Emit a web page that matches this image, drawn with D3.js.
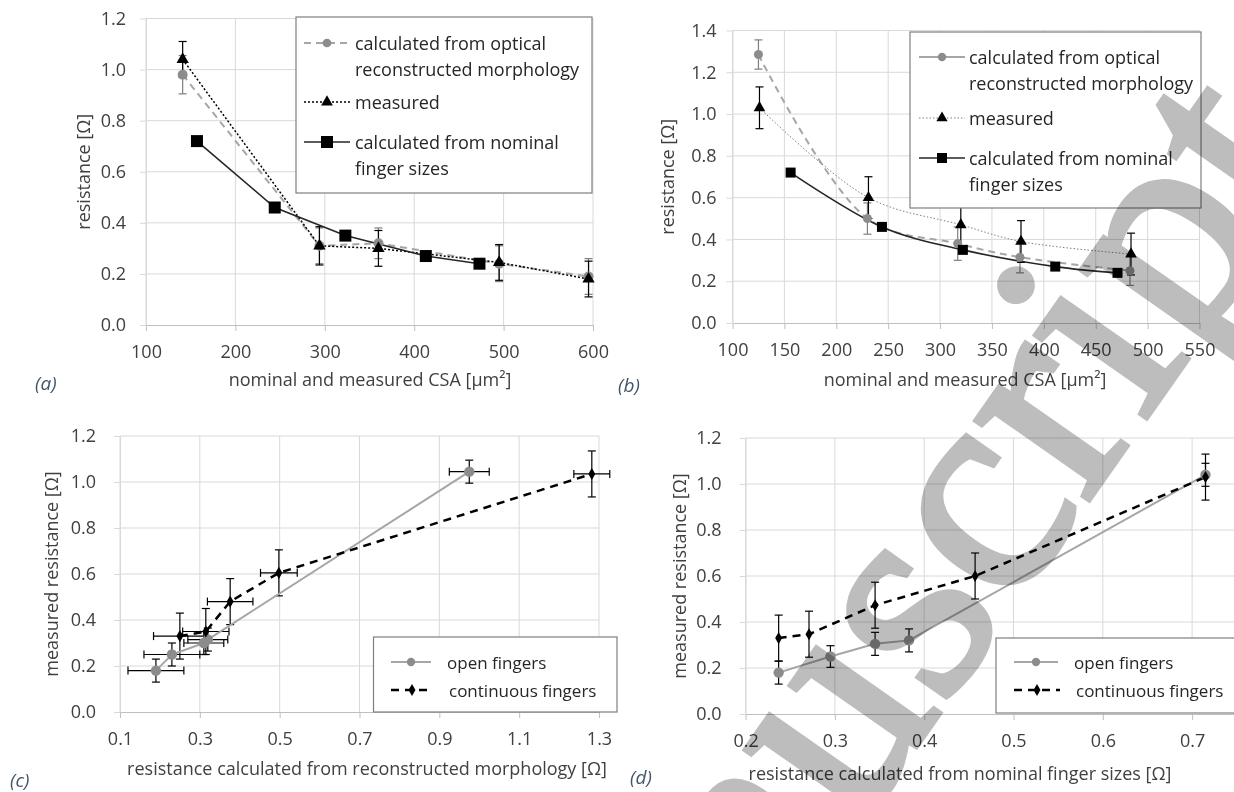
<!DOCTYPE html>
<html>
<head>
<meta charset="utf-8">
<script src="https://cdn.jsdelivr.net/npm/d3@7"></script>
<style>
  body { margin: 0; background: #fff; }
  text { font-family: "Open Sans", sans-serif; }
</style>
</head>
<body>
<script>
// ---- (a) resistance vs CSA ----
var aCsaMeas = [141, 294, 360, 495, 595];
var aOptical = [0.98, 0.31, 0.32, 0.24, 0.19];
var aOpticalErr = [0.075, 0.07, 0.06, 0.07, 0.07];
var aMeasured = [1.04, 0.31, 0.30, 0.245, 0.18];
var aMeasuredErr = [0.07, 0.075, 0.07, 0.07, 0.07];
var aCsaNom = [157, 244, 323, 413, 473];
var aNominal = [0.72, 0.46, 0.35, 0.27, 0.24];

// ---- (b) resistance vs CSA (smoothed) ----
var bCsaOpt = [125, 230, 317, 377, 483];
var bOptical = [1.285, 0.50, 0.38, 0.315, 0.25];
var bOpticalErr = [0.07, 0.075, 0.08, 0.075, 0.07];
var bCsaMeas = [126, 231, 320, 378, 484];
var bMeasured = [1.03, 0.60, 0.47, 0.39, 0.33];
var bMeasuredErr = [0.1, 0.1, 0.1, 0.1, 0.1];
var bCsaNom = [156, 244, 322, 411, 471];
var bNominal = [0.72, 0.46, 0.35, 0.27, 0.24];

// ---- (c) measured vs reconstructed ----
var cOpenX = [0.19, 0.23, 0.31, 0.32, 0.975];
var cOpenY = [0.18, 0.25, 0.30, 0.315, 1.045];
var cOpenXErr = [0.07, 0.07, 0.05, 0.05, 0.05];
var cOpenYErr = [0.05, 0.05, 0.05, 0.05, 0.05];
var cContX = [0.25, 0.315, 0.376, 0.498, 1.282];
var cContY = [0.33, 0.35, 0.48, 0.605, 1.035];
var cContXErr = [0.066, 0.058, 0.057, 0.046, 0.045];
var cContYErr = [0.1, 0.1, 0.1, 0.1, 0.1];

// ---- (d) measured vs nominal ----
var dOpenX = [0.237, 0.295, 0.345, 0.383, 0.715];
var dOpenY = [0.18, 0.25, 0.305, 0.32, 1.04];
var dOpenYErr = [0.05, 0.047, 0.05, 0.05, 0.05];
var dContX = [0.237, 0.271, 0.345, 0.457, 0.715];
var dContY = [0.33, 0.347, 0.473, 0.60, 1.03];
var dContYErr = [0.1, 0.1, 0.1, 0.1, 0.1];

// tick values
var csaTicksA = d3.range(100, 601, 100);
var csaTicksB = d3.range(100, 551, 50);
var resTicks12 = d3.range(0, 1.21, 0.2);
var resTicks14 = d3.range(0, 1.41, 0.2);
var recTicks = [0.1, 0.3, 0.5, 0.7, 0.9, 1.1, 1.3];
var nomTicks = [0.2, 0.3, 0.4, 0.5, 0.6, 0.7];

var W = 1234, H = 792;
var svg = d3.select('body').append('svg').attr('width', W).attr('height', H);

var GRID = '#d9d9d9', AXIS = '#bfbfbf', LABEL = '#404040';
var GRAYLINE = '#a6a6a6', GRAYDOT = '#8c8c8c';
var f1 = d3.format('.1f');

function zip(xs, ys, errs, xerrs) {
    return xs.map(function (x, i) {
        return {x: x, y: ys[i], e: errs ? errs[i] : 0, xe: xerrs ? xerrs[i] : 0};
    });
}

// grid, axes and titles for one panel
function frame(x, y, xTicks, yTicks, yPad, xTitle, yTitle, yTitleX, xTitleY) {
    var g = svg.append('g');
    g.append('g').selectAll('line').data(yTicks.slice(1)).join('line')
        .attr('x1', x.range()[0]).attr('x2', x.range()[1])
        .attr('y1', function (d) { return y(d); }).attr('y2', function (d) { return y(d); })
        .attr('stroke', GRID);
    g.append('g').selectAll('line').data(xTicks).join('line')
        .attr('x1', function (d) { return x(d); }).attr('x2', function (d) { return x(d); })
        .attr('y1', y.range()[0]).attr('y2', y.range()[1])
        .attr('stroke', GRID);

    var xa = g.append('g').attr('transform', 'translate(0,' + y.range()[0] + ')')
        .call(d3.axisBottom(x).tickValues(xTicks).tickFormat(xTicks[1] < 1 ? f1 : d3.format('d'))
            .tickSize(6).tickSizeOuter(0).tickPadding(14));
    var ya = g.append('g').attr('transform', 'translate(' + x.range()[0] + ',0)')
        .call(d3.axisLeft(y).tickValues(yTicks).tickFormat(f1)
            .tickSize(6).tickSizeOuter(0).tickPadding(yPad));
    [xa, ya].forEach(function (a) {
        a.select('.domain').attr('stroke', AXIS);
        a.selectAll('.tick line').attr('stroke', AXIS);
        a.selectAll('.tick text').attr('fill', LABEL).style('font-size', '18px')
            .style('font-family', '"Open Sans", sans-serif');
    });
    ya.select('.domain').attr('stroke', GRID);
    ya.selectAll('.tick line').attr('stroke', GRID);

    svg.append('text').attr('x', xTitle.cx).attr('y', xTitleY)
        .attr('text-anchor', 'middle').attr('dominant-baseline', 'central')
        .attr('fill', LABEL).style('font-size', '18px').text(xTitle.t);
    svg.append('text')
        .attr('transform', 'translate(' + yTitleX + ',' + (y.range()[0] + y.range()[1]) / 2 + ') rotate(-90)')
        .attr('text-anchor', 'middle').attr('dominant-baseline', 'central')
        .attr('fill', LABEL).style('font-size', '18px').text(yTitle);
}

function line(x, y, pts, color, width, dash, curve) {
    svg.append('path').datum(pts)
        .attr('d', d3.line().x(function (d) { return x(d.x); }).y(function (d) { return y(d.y); })
            .curve(curve || d3.curveLinear))
        .attr('fill', 'none').attr('stroke', color).attr('stroke-width', width)
        .attr('stroke-dasharray', dash || null);
}

function errY(x, y, pts, color, cap) {
    var g = svg.append('g').attr('stroke', color).attr('stroke-width', 1.2);
    pts.forEach(function (d) {
        if (!d.e) return;
        var px = x(d.x), y0 = y(d.y - d.e), y1 = y(d.y + d.e);
        g.append('line').attr('x1', px).attr('x2', px).attr('y1', y0).attr('y2', y1);
        g.append('line').attr('x1', px - cap).attr('x2', px + cap).attr('y1', y0).attr('y2', y0);
        g.append('line').attr('x1', px - cap).attr('x2', px + cap).attr('y1', y1).attr('y2', y1);
    });
}

function errX(x, y, pts, color, cap) {
    var g = svg.append('g').attr('stroke', color).attr('stroke-width', 1.2);
    pts.forEach(function (d) {
        if (!d.xe) return;
        var py = y(d.y), x0 = x(d.x - d.xe), x1 = x(d.x + d.xe);
        g.append('line').attr('x1', x0).attr('x2', x1).attr('y1', py).attr('y2', py);
        g.append('line').attr('x1', x0).attr('x2', x0).attr('y1', py - cap).attr('y2', py + cap);
        g.append('line').attr('x1', x1).attr('x2', x1).attr('y1', py - cap).attr('y2', py + cap);
    });
}

function marks(x, y, pts, type, size, color) {
    svg.append('g').selectAll('path').data(pts).join('path')
        .attr('transform', function (d) { return 'translate(' + x(d.x) + ',' + y(d.y) + ')'; })
        .attr('d', d3.symbol(type, size)).attr('fill', color);
}

// legend entry: symbol line + marker + text lines
function legendRow(lx0, lx1, ly, color, width, dash, type, size, mcolor, tx, lines, fs) {
    svg.append('line').attr('x1', lx0).attr('x2', lx1).attr('y1', ly).attr('y2', ly)
        .attr('stroke', color).attr('stroke-width', width).attr('stroke-dasharray', dash || null);
    svg.append('path').attr('transform', 'translate(' + (lx0 + lx1) / 2 + ',' + ly + ')')
        .attr('d', d3.symbol(type, size)).attr('fill', mcolor);
    lines.forEach(function (t, i) {
        svg.append('text').attr('x', tx).attr('y', ly + i * 25.5)
            .attr('dominant-baseline', 'central').attr('fill', '#262626')
            .style('font-size', (fs || 18) + 'px').text(t);
    });
}

function legendBox(x0, y0, x1, y1) {
    svg.append('rect').attr('x', x0).attr('y', y0).attr('width', x1 - x0).attr('height', y1 - y0)
        .attr('fill', '#fff').attr('stroke', '#7f7f7f').attr('stroke-width', 1.2);
}

function panelLabel(px, py, t) {
    svg.append('text').attr('x', px).attr('y', py).attr('dominant-baseline', 'central')
        .attr('fill', '#44546a').style('font-size', '19px').style('font-style', 'italic').text(t);
}

// ================= (a) =================
var xA = d3.scaleLinear().domain([100, 600]).range([146, 593]);
var yA = d3.scaleLinear().domain([0, 1.2]).range([325, 18.5]);
frame(xA, yA, csaTicksA, resTicks12, 14, {t: 'nominal and measured CSA [\u03bcm\u00b2]', cx: 370}, 'resistance [\u03a9]', 83, 379);
var aOpt = zip(aCsaMeas, aOptical, aOpticalErr);
var aMeas = zip(aCsaMeas, aMeasured, aMeasuredErr);
var aNom = zip(aCsaNom, aNominal);
errY(xA, yA, aOpt, '#7f7f7f', 4);
errY(xA, yA, aMeas, '#000', 4);
line(xA, yA, aOpt, GRAYLINE, 2, '7,5');
line(xA, yA, aMeas, '#000', 1.5, '2,2');
line(xA, yA, aNom, '#262626', 1.6);
marks(xA, yA, aOpt, d3.symbolCircle, 78, GRAYDOT);
marks(xA, yA, aMeas, d3.symbolTriangle, 66, '#000');
marks(xA, yA, aNom, d3.symbolSquare, 144, '#000');
legendBox(296, 17, 592, 193);
legendRow(304, 350, 43, GRAYLINE, 2, '7,5', d3.symbolCircle, 60, GRAYDOT, 355,
    ['calculated from optical', 'reconstructed morphology']);
legendRow(304, 350, 102, '#000', 1.5, '2,2', d3.symbolTriangle, 60, '#000', 355, ['measured']);
legendRow(304, 350, 142, '#262626', 1.6, null, d3.symbolSquare, 144, '#000', 355,
    ['calculated from nominal', 'finger sizes']);
panelLabel(35, 383, '(a)');

// ================= (b) =================
var xB = d3.scaleLinear().domain([100, 550]).range([732.5, 1199.5]);
var yB = d3.scaleLinear().domain([0, 1.4]).range([323, 30.5]);
frame(xB, yB, csaTicksB, resTicks14, 10, {t: 'nominal and measured CSA [\u03bcm\u00b2]', cx: 965}, 'resistance [\u03a9]', 667, 379);
var bOpt = zip(bCsaOpt, bOptical, bOpticalErr);
var bMeas = zip(bCsaMeas, bMeasured, bMeasuredErr);
var bNom = zip(bCsaNom, bNominal);
errY(xB, yB, bOpt, '#7f7f7f', 4);
errY(xB, yB, bMeas, '#000', 4);
line(xB, yB, bOpt, GRAYLINE, 2, '7,5', d3.curveCatmullRom);
line(xB, yB, bMeas, '#7f7f7f', 1, '1.5,2', d3.curveCatmullRom);
line(xB, yB, bNom, '#262626', 1.6, null, d3.curveCatmullRom);
marks(xB, yB, bOpt, d3.symbolCircle, 64, GRAYDOT);
marks(xB, yB, bMeas, d3.symbolTriangle, 58, '#000');
marks(xB, yB, bNom, d3.symbolSquare, 100, '#000');
legendBox(910, 32, 1201, 208);
legendRow(919, 965, 57, GRAYLINE, 2, null, d3.symbolCircle, 55, GRAYDOT, 969,
    ['calculated from optical', 'reconstructed morphology']);
legendRow(919, 965, 118, '#7f7f7f', 1, '1.5,2', d3.symbolTriangle, 55, '#000', 969, ['measured']);
legendRow(919, 965, 158, '#262626', 1.6, null, d3.symbolSquare, 100, '#000', 969,
    ['calculated from nominal', 'finger sizes']);
panelLabel(618, 385, '(b)');

// ================= (c) =================
var xC = d3.scaleLinear().domain([0.1, 1.3]).range([120, 599]);
var yC = d3.scaleLinear().domain([0, 1.2]).range([712, 436]);
frame(xC, yC, recTicks, resTicks12, 18, {t: 'resistance calculated from reconstructed morphology [\u03a9]', cx: 367}, 'measured resistance [\u03a9]', 51, 768);
var cOpen = zip(cOpenX, cOpenY, cOpenYErr, cOpenXErr);
var cCont = zip(cContX, cContY, cContYErr, cContXErr);
errY(xC, yC, cOpen, '#000', 4);
errX(xC, yC, cOpen, '#000', 4);
errY(xC, yC, cCont, '#000', 4);
errX(xC, yC, cCont, '#000', 4);
line(xC, yC, cOpen, GRAYLINE, 2);
line(xC, yC, cCont, '#000', 2.5, '8,6');
marks(xC, yC, cOpen, d3.symbolCircle, 85, GRAYDOT);
marks(xC, yC, cCont, d3.symbolDiamond, 42, '#000');
legendBox(373.5, 637, 617, 712);
legendRow(391, 431, 662, GRAYLINE, 2, null, d3.symbolCircle, 55, GRAYDOT, 447, ['open fingers'], 17);
legendRow(391, 433, 690, '#000', 2.5, '8,6', d3.symbolDiamond, 42, '#000', 449, ['continuous fingers'], 17);
panelLabel(10, 780, '(c)');

// ================= (d) =================
// axis runs past 0.7 to the right edge of the picture
var xD = d3.scaleLinear().domain([0.2, 0.8]).range([745.6, 1281.4]);
var yD = d3.scaleLinear().domain([0, 1.2]).range([714, 438]);
frame(xD, yD, nomTicks, resTicks12, 18, {t: 'resistance calculated from nominal finger sizes [\u03a9]', cx: 960}, 'measured resistance [\u03a9]', 679, 773);
var dOpen = zip(dOpenX, dOpenY, dOpenYErr);
var dCont = zip(dContX, dContY, dContYErr);
errY(xD, yD, dOpen, '#000', 4);
errY(xD, yD, dCont, '#000', 4);
line(xD, yD, dOpen, GRAYLINE, 2);
line(xD, yD, dCont, '#000', 2.5, '8,6');
marks(xD, yD, dOpen, d3.symbolCircle, 85, GRAYDOT);
marks(xD, yD, dCont, d3.symbolDiamond, 42, '#000');
legendBox(996, 638, 1240, 713);
legendRow(1014, 1058, 662, GRAYLINE, 2, null, d3.symbolCircle, 55, GRAYDOT, 1074, ['open fingers'], 17);
legendRow(1014, 1060, 690, '#000', 2.5, '8,6', d3.symbolDiamond, 42, '#000', 1076, ['continuous fingers'], 17);
panelLabel(630, 777, '(d)');

// watermark
svg.append('text').attr('transform', 'translate(560,1255) rotate(-55)')
    .style('font-family', '"Liberation Serif", serif').style('font-size', '300px')
    .style('mix-blend-mode', 'multiply').attr('fill', '#bdbdbd')
    .attr('stroke', '#bdbdbd').attr('stroke-width', 6).text('manuscript');
</script>
</body>
</html>
